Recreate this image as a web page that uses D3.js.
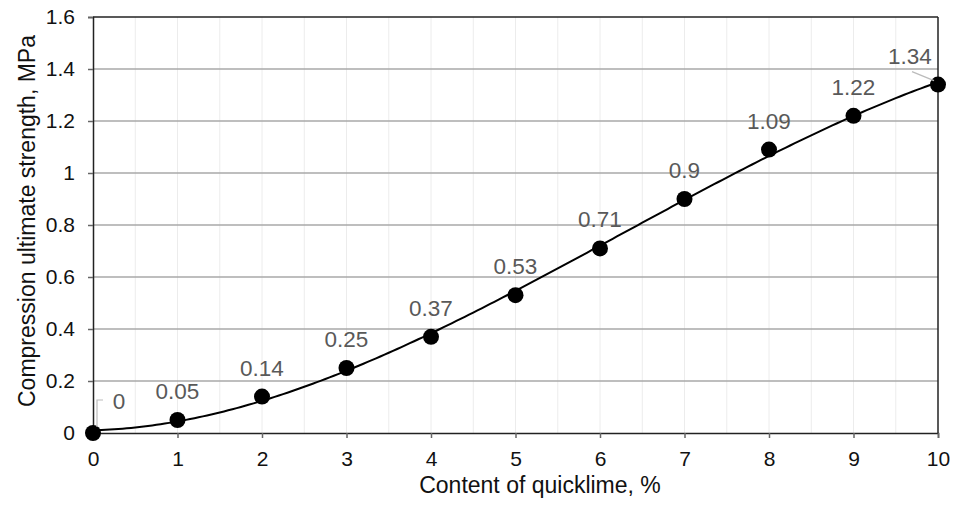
<!DOCTYPE html>
<html>
<head>
<meta charset="utf-8">
<script src="https://cdn.jsdelivr.net/npm/d3@7"></script>
<style>
  html, body { margin: 0; padding: 0; background: #fff; }
  svg { display: block; font-family: "Liberation Sans", Arial, Helvetica, sans-serif; }
</style>
</head>
<body>
<svg id="chart" width="958" height="512"></svg>
<script>
const contents = [0, 1, 2, 3, 4, 5, 6, 7, 8, 9, 10];
const strengths = [0, 0.05, 0.14, 0.25, 0.37, 0.53, 0.71, 0.9, 1.09, 1.22, 1.34];
const xTicks = [0, 1, 2, 3, 4, 5, 6, 7, 8, 9, 10];
const yTicks = [0, 0.2, 0.4, 0.6, 0.8, 1, 1.2, 1.4, 1.6];
const xTitle = "Content of quicklime, %";
const yTitle = "Compression ultimate strength, MPa";

const svg = d3.select("#chart");
const L = 93, R = 938, T = 17, B = 433;
const x = d3.scaleLinear().domain([0, 10]).range([L, R]);
const y = d3.scaleLinear().domain([0, 1.6]).range([B, T]);

// faint vertical gridlines every 0.5
const vGrid = d3.range(0.5, 10, 0.5);
svg.append("g").selectAll("line").data(vGrid).join("line")
  .attr("x1", d => x(d)).attr("x2", d => x(d))
  .attr("y1", T).attr("y2", B)
  .attr("stroke", "#ececec").attr("stroke-width", 1);

// horizontal gridlines
svg.append("g").selectAll("line").data(yTicks.filter(d => d > 0 && d < 1.6)).join("line")
  .attr("x1", L).attr("x2", R)
  .attr("y1", d => y(d)).attr("y2", d => y(d))
  .attr("stroke", "#a8a8a8").attr("stroke-width", 1.5);

// y axis
const yAxis = d3.axisLeft(y).tickValues(yTicks).tickSize(5).tickPadding(13)
  .tickFormat(d => d3.format("~g")(d));
const gy = svg.append("g").attr("transform", `translate(${L},0)`).call(yAxis);
gy.select(".domain").attr("stroke", "#222").attr("stroke-width", 1.5);
gy.selectAll(".tick line").attr("stroke", "#666").attr("stroke-width", 1.5);
gy.selectAll(".tick text").attr("font-size", 21).attr("fill", "#111")
  .attr("font-family", "Liberation Sans, Arial, sans-serif");

// x axis
const xAxis = d3.axisBottom(x).tickValues(xTicks).tickSize(5).tickPadding(13)
  .tickFormat(d3.format("d"));
const gx = svg.append("g").attr("transform", `translate(0,${B})`).call(xAxis);
gx.select(".domain").attr("stroke", "#222").attr("stroke-width", 1.5);
gx.selectAll(".tick line").attr("stroke", "#666").attr("stroke-width", 1.5);
gx.selectAll(".tick text").attr("font-size", 21).attr("fill", "#111")
  .attr("font-family", "Liberation Sans, Arial, sans-serif");

// top and right border
svg.append("line").attr("x1", L).attr("x2", R).attr("y1", T).attr("y2", T)
  .attr("stroke", "#222").attr("stroke-width", 1.5);
svg.append("line").attr("x1", R).attr("x2", R).attr("y1", T).attr("y2", B)
  .attr("stroke", "#222").attr("stroke-width", 1.5);

// cubic least-squares trendline
function polyfit(xs, ys, deg) {
  const n = deg + 1;
  const A = Array.from({length: n}, () => new Array(n + 1).fill(0));
  for (let i = 0; i < xs.length; i++) {
    for (let r = 0; r < n; r++) {
      for (let c = 0; c < n; c++) A[r][c] += Math.pow(xs[i], r + c);
      A[r][n] += ys[i] * Math.pow(xs[i], r);
    }
  }
  for (let i = 0; i < n; i++) {
    let p = i;
    for (let k = i + 1; k < n; k++) if (Math.abs(A[k][i]) > Math.abs(A[p][i])) p = k;
    [A[i], A[p]] = [A[p], A[i]];
    for (let k = i + 1; k < n; k++) {
      const f = A[k][i] / A[i][i];
      for (let j = i; j <= n; j++) A[k][j] -= f * A[i][j];
    }
  }
  const coef = new Array(n).fill(0);
  for (let i = n - 1; i >= 0; i--) {
    let s = A[i][n];
    for (let j = i + 1; j < n; j++) s -= A[i][j] * coef[j];
    coef[i] = s / A[i][i];
  }
  return coef;
}
const coef = polyfit(contents, strengths, 3);
const fx = v => coef.reduce((s, c, i) => s + c * Math.pow(v, i), 0);
const trend = d3.range(0, 10.001, 0.05).map(v => [v, fx(v)]);
svg.append("path").datum(trend)
  .attr("fill", "none").attr("stroke", "#000").attr("stroke-width", 2)
  .attr("d", d3.line().x(d => x(d[0])).y(d => y(d[1])));

// markers
const pts = contents.map((c, i) => ({c, v: strengths[i]}));
svg.append("g").selectAll("circle").data(pts).join("circle")
  .attr("cx", d => x(d.c)).attr("cy", d => y(d.v)).attr("r", 8)
  .attr("fill", "#000");

// leader lines for first and last labels
const first = pts[0], last = pts[pts.length - 1];
svg.append("polyline")
  .attr("points", `${x(first.c)+4},${y(first.v)-6} ${x(first.c)+4},${y(first.v)-33} ${x(first.c)+10},${y(first.v)-33}`)
  .attr("fill", "none").attr("stroke", "#bbb").attr("stroke-width", 1.2);
svg.append("line")
  .attr("x1", x(last.c) - 4).attr("y1", y(last.v) - 4)
  .attr("x2", x(last.c) - 26).attr("y2", y(last.v) - 13)
  .attr("stroke", "#bbb").attr("stroke-width", 1.2);

// data labels
svg.append("g").selectAll("text").data(pts).join("text")
  .attr("x", (d, i) => i === 0 ? x(d.c) + 26 : (i === pts.length - 1 ? x(d.c) - 28 : x(d.c)))
  .attr("y", (d, i) => i === 0 ? y(d.v) - 24 : y(d.v) - 21)
  .attr("text-anchor", "middle")
  .attr("font-size", 22.5).attr("fill", "#595959")
  .text(d => d3.format("~g")(d.v));

// axis titles
svg.append("text").attr("x", 540).attr("y", 493).attr("text-anchor", "middle")
  .attr("font-size", 23).attr("fill", "#111").text(xTitle);
svg.append("text").attr("transform", "translate(35,221) rotate(-90)")
  .attr("text-anchor", "middle").attr("font-size", 23).attr("fill", "#111").text(yTitle);
</script>
</body>
</html>
